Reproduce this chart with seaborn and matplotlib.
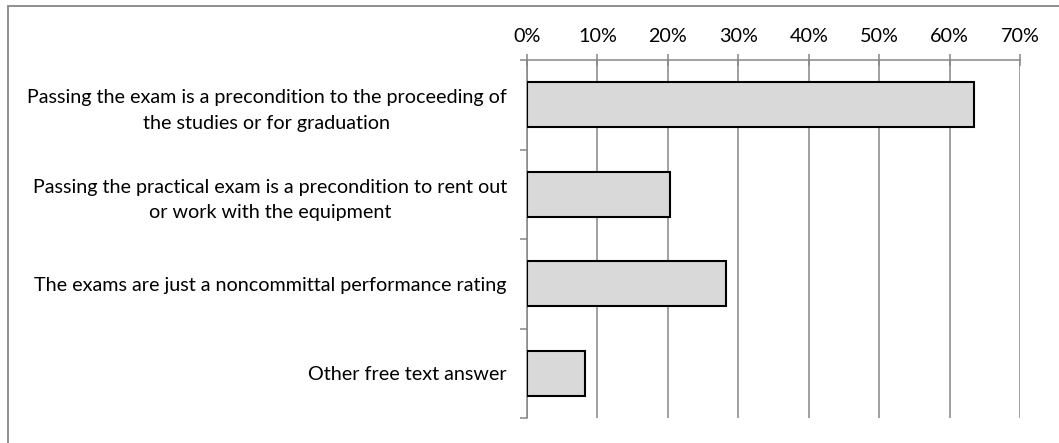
import numpy as np
import pandas as pd
import matplotlib
matplotlib.use("Agg")
import matplotlib.pyplot as plt
import seaborn as sns
from matplotlib.patches import Rectangle
from matplotlib.ticker import PercentFormatter

# data
answers = [
    "Passing the exam is a precondition to the proceeding of\nthe studies or for graduation",
    "Passing the practical exam is a precondition to rent out\nor work with the equipment",
    "The exams are just a noncommittal performance rating",
    "Other free text answer",
]
shares = [63.5, 20.3, 28.3, 8.2]
x_ticks = [0, 10, 20, 30, 40, 50, 60, 70]

sns.set_style("white")
plt.rcParams["font.family"] = ["Lato", "DejaVu Sans"]
plt.rcParams["font.size"] = 14.2

GRID = "#868686"

df = pd.DataFrame({"answer": answers, "share": shares})

fig = plt.figure(figsize=(10.59, 4.43), dpi=100)
ax = fig.add_axes([527 / 1059, 1 - 418 / 443, (1020 - 527) / 1059, (418 - 60) / 443])

sns.barplot(data=df, x="share", y="answer", orient="h", ax=ax,
            color="#d9d9d9", edgecolor="black", linewidth=1.5, width=0.5,
            saturation=1, zorder=3)

ax.set_xlim(0, 70)
ax.set_ylim(3.5, -0.5)
ax.set_xticks(x_ticks)
ax.xaxis.set_major_formatter(PercentFormatter(decimals=0))
ax.xaxis.tick_top()
ax.set_xlabel("")
ax.set_ylabel("")

ax.grid(axis="x", color=GRID, linewidth=1.1, zorder=0)
ax.set_axisbelow(True)

# category labels at centers, boundary ticks on the left spine
ax.set_yticks(range(len(answers)))
ax.set_yticklabels(answers, multialignment="center", linespacing=1.6)
ax.set_yticks(np.arange(-0.5, len(answers)), minor=True)
ax.tick_params(axis="y", which="major", length=0, pad=14.5, labelcolor="black")
ax.tick_params(axis="y", which="minor", length=5, color=GRID, width=1.1, left=True)
ax.tick_params(axis="x", direction="inout", length=8, color=GRID, width=1.1,
               pad=7, labelcolor="black")

for side in ["right", "bottom"]:
    ax.spines[side].set_visible(False)
for side in ["top", "left"]:
    ax.spines[side].set_color(GRID)
    ax.spines[side].set_linewidth(1.1)

# chart frame like the spreadsheet chart area
fig.patches.append(Rectangle((8 / 1059, -0.05), 1.1, 1 - 6 / 443 + 0.05,
                             transform=fig.transFigure, fill=False,
                             edgecolor=GRID, linewidth=1.3))

fig.savefig("out.png", dpi=100)
plt.close(fig)
